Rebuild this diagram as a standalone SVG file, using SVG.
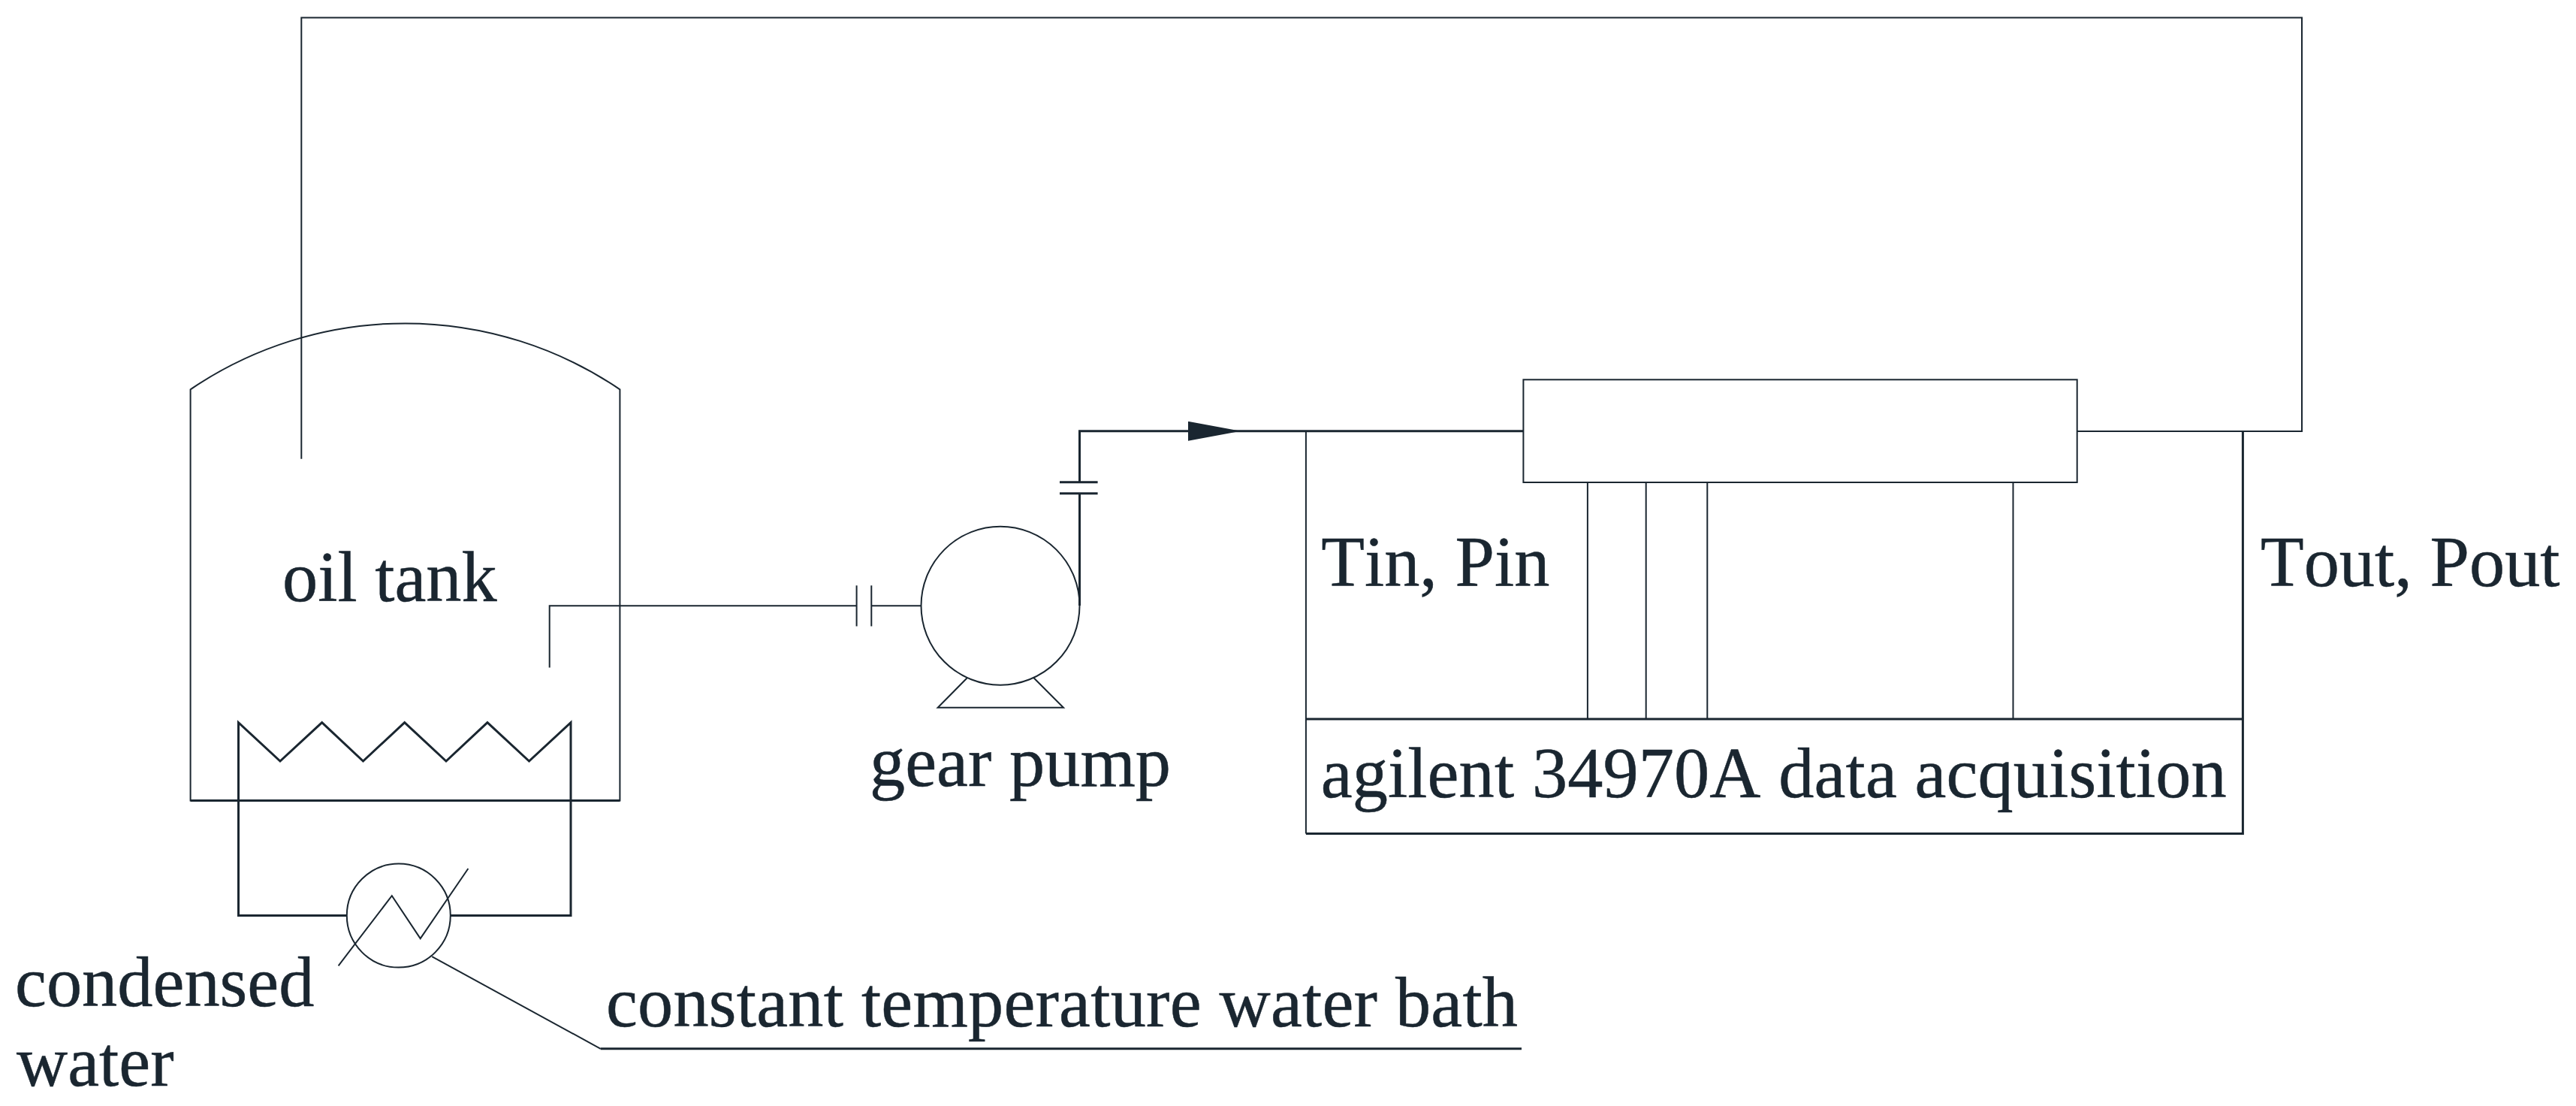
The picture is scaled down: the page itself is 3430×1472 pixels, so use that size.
<svg xmlns="http://www.w3.org/2000/svg" width="3430" height="1472" viewBox="0 0 3430 1472">
<defs>
<style>
.l{fill:none;stroke:#1a2630;stroke-width:2;stroke-linejoin:miter}
.h{fill:none;stroke:#1a2630;stroke-width:3}
text{font-family:"Liberation Serif","Times New Roman",serif;font-size:94.4px;fill:#1a2630;font-kerning:none;stroke:#1a2630;stroke-width:.5}
</style>
<marker id="arrow" markerUnits="userSpaceOnUse" markerWidth="70" markerHeight="26" refX="70" refY="13" orient="auto"><polygon points="0,0 70,13 0,26" fill="#1a2630"/></marker>
</defs>
<rect width="3430" height="1472" fill="#fff"/>
<g id="connectors">
<path class="l" d="M2765.7 574H3065V23.5H401.3V610.7"/>
<path class="l" d="M731.7 888.4V806.3H1140.6"/>
<path class="l" d="M1160.3 806.3H1226.3"/>
<path class="h" d="M1437.5 806V656.8"/>
<path class="h" d="M1437.5 641.8V573.8H1652" marker-end="url(#arrow)"/>
<path class="h" d="M1652 573.8H2028.4"/>
<path class="h" d="M317.5 1065.6V1218.6H461.5"/>
<path class="h" d="M760 1065.6V1218.6H600"/>
<path class="l" d="M575.2 1273.2L799.7 1395.8"/>
<path class="h" d="M799.7 1395.8H2026"/>
<path class="l" d="M2113.9 642V957M2191.7 642V957M2273.3 642V957M2680.5 642V957"/>
</g>
<g id="oil-tank">
<path class="l" d="M253.6 518.3A508.9 508.9 0 0 1 825.4 518.3V1065.6H253.6Z"/>
<path class="h" d="M253.6 1065.6H825.4"/>
<path class="h" d="M317.5 1065.6V961.6L373 1013L428.7 961.6L483.5 1013L538.7 961.6L594 1013L649 961.6L704.5 1013L760 961.6V1065.6"/>
<text x="376" y="799.5">oil tank</text>
</g>
<g id="condenser">
<circle class="l" cx="530.8" cy="1218.6" r="69"/>
<path class="l" d="M450.6 1285.3L521.8 1192.2L559.7 1249.1L623.4 1156"/>
<text x="20" y="1339">condensed</text>
<text x="22" y="1445.4">water</text>
</g>
<g id="bath-label">
<text x="807" y="1366" textLength="1214">constant temperature water bath</text>
</g>
<g id="gear-pump">
<circle class="l" cx="1332" cy="806.2" r="105.5"/>
<path class="l" d="M1288 902L1248.7 941.8H1416L1376.3 902"/>
<path class="l" d="M1140.6 779.3V833.6M1160.3 779.3V833.6"/>
<path class="h" d="M1411 641.8H1461.6M1411 656.8H1461.6"/>
<text x="1158" y="1045.7">gear pump</text>
</g>
<g id="test-section">
<rect class="l" x="2028.4" y="505.3" width="737.3" height="136.7"/>
</g>
<g id="daq">
<path class="h" d="M1738.9 957H2986.4V574M2986.4 957V1109.6H1738.9"/>
<path class="l" d="M1738.9 574V1109.6"/>
<text x="1758.7" y="1060.8" textLength="1206">agilent 34970A data acquisition</text>
</g>
<g id="labels">
<text x="1759.3" y="779.7">Tin, Pin</text>
<text x="3010" y="779.7">Tout, Pout</text>
</g>
</svg>
